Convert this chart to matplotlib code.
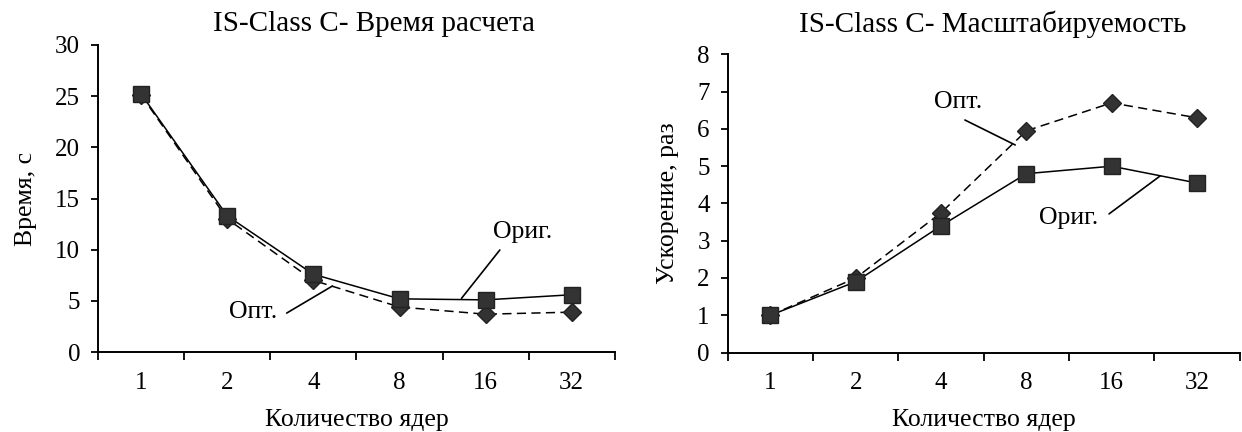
import matplotlib
matplotlib.use("Agg")
import matplotlib.pyplot as plt
import numpy as np

plt.rcParams['font.family'] = ['Liberation Serif', 'DejaVu Serif']

cores = ["1", "2", "4", "8", "16", "32"]
time_orig = [25.2, 13.3, 7.6, 5.2, 5.1, 5.6]
time_opt = [25.1, 13.0, 7.0, 4.4, 3.7, 3.9]
speed_orig = [1.0, 1.9, 3.4, 4.8, 5.0, 4.55]
speed_opt = [1.0, 2.0, 3.75, 5.95, 6.7, 6.3]

FS = 18
LFS = 18.5
TFS = 21
fig = plt.figure(figsize=(12.42, 4.32), dpi=100)
ax1 = fig.add_axes([0.079, 0.185, 0.416, 0.711])
ax2 = fig.add_axes([0.586, 0.184, 0.412, 0.69])

def style(ax, ymax, ystep):
    x = np.arange(len(cores))
    ax.set_xlim(-0.5, len(cores) - 0.5)
    ax.set_ylim(0, ymax)
    ax.set_yticks(np.arange(0, ymax + 0.01, ystep))
    ax.set_xticks(x)
    ax.set_xticklabels(cores)
    ax.set_xticks(np.arange(-0.5, len(cores), 1.0), minor=True)
    ax.tick_params(axis='x', which='major', length=0, pad=14, labelsize=FS)
    ax.tick_params(axis='x', which='minor', length=6, width=1.3, direction='out')
    ax.tick_params(axis='y', length=5, width=1.3, direction='out', labelsize=FS, pad=8)
    for s in ['top', 'right']:
        ax.spines[s].set_visible(False)
    for s in ['left', 'bottom']:
        ax.spines[s].set_linewidth(1.4)
    ax.set_xlabel("Количество ядер", fontsize=LFS, labelpad=11)

def callout(ax, label, text_xy, start, end):
    ax.text(text_xy[0], text_xy[1], label, fontsize=LFS, ha='center', va='center')
    ax.annotate("", xy=end, xytext=start,
                arrowprops=dict(arrowstyle='-', color='black', lw=1.2, shrinkA=0, shrinkB=0))

DASH = (0, (6, 3.5))
x = np.arange(len(cores))

style(ax1, 30, 5)
ax1.plot(x, time_opt, color='black', linestyle=DASH, linewidth=1.1,
         marker='D', markersize=9.5, markerfacecolor='#333333', markeredgecolor='#222222', zorder=3)
ax1.plot(x, time_orig, color='black', linestyle='-', linewidth=1.1,
         marker='s', markersize=11.5, markerfacecolor='#333333', markeredgecolor='#222222', zorder=4)
ax1.set_ylabel("Время, с", fontsize=LFS, labelpad=13)
fig.text(0.301, 0.944, "IS-Class C- Время расчета", fontsize=TFS, ha='center', va='center')
callout(ax1, "Ориг.", (4.43, 11.73), (4.165, 9.97), (3.72, 5.25))
callout(ax1, "Опт.", (1.30, 3.91), (1.69, 3.81), (2.22, 6.45))

style(ax2, 8, 1)
ax2.plot(x, speed_opt, color='black', linestyle=DASH, linewidth=1.1,
         marker='D', markersize=9.5, markerfacecolor='#333333', markeredgecolor='#222222', zorder=3)
ax2.plot(x, speed_orig, color='black', linestyle='-', linewidth=1.1,
         marker='s', markersize=11.5, markerfacecolor='#333333', markeredgecolor='#222222', zorder=4)
ax2.set_ylabel("Ускорение, раз", fontsize=LFS, labelpad=13)
fig.text(0.7995, 0.944, "IS-Class C- Масштабируемость", fontsize=TFS, ha='center', va='center')
callout(ax2, "Опт.", (2.20, 6.71), (2.28, 6.24), (2.87, 5.57))
callout(ax2, "Ориг.", (3.50, 3.61), (3.97, 3.72), (4.57, 4.74))

fig.savefig("out.png", dpi=100)
